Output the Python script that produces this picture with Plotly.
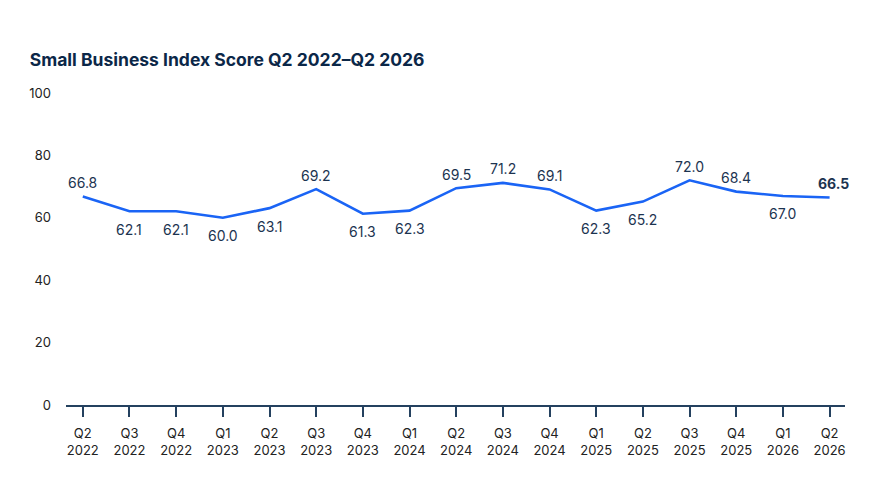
import plotly.graph_objects as go

quarters = ["Q2<br>2022", "Q3<br>2022", "Q4<br>2022", "Q1<br>2023", "Q2<br>2023", "Q3<br>2023",
            "Q4<br>2023", "Q1<br>2024", "Q2<br>2024", "Q3<br>2024", "Q4<br>2024", "Q1<br>2025",
            "Q2<br>2025", "Q3<br>2025", "Q4<br>2025", "Q1<br>2026", "Q2<br>2026"]
scores = [66.8, 62.1, 62.1, 60.0, 63.1, 69.2, 61.3, 62.3, 69.5, 71.2, 69.1, 62.3, 65.2, 72.0, 68.4, 67.0, 66.5]
label_side = ["above", "below", "below", "below", "below", "above", "below", "below", "above",
              "above", "above", "below", "below", "above", "above", "below", "above"]

NAVY = "#0b2748"
LINE = "#1a64f5"
FONT = "Inter, Liberation Sans, Arial, sans-serif"

xs = list(range(len(quarters)))
fig = go.Figure()
fig.add_trace(go.Scatter(x=xs, y=scores, mode="lines",
                         line=dict(color=LINE, width=2.6), hoverinfo="skip", showlegend=False))

annotations = []
for i, (v, side) in enumerate(zip(scores, label_side)):
    last = i == len(scores) - 1
    annotations.append(dict(
        x=i, y=v, xref="x", yref="y", text=(f"<b>{v:.1f}</b>" if last else f"{v:.1f}"),
        showarrow=False, yanchor="middle", xanchor="center",
        yshift=14 if side == "above" else -18, xshift=4 if last else 0,
        font=dict(family=FONT, size=14, color="#1c3350")))

fig.update_layout(
    width=875, height=500,
    margin=dict(l=66, r=30, t=93, b=95),
    paper_bgcolor="white", plot_bgcolor="white",
    title=dict(text="<b>Small Business Index Score Q2 2022–Q2 2026</b>", x=0.034, xanchor="left",
               y=0.88, yanchor="middle", font=dict(family=FONT, size=17.5, color=NAVY)),
    font=dict(family=FONT, size=13, color="#222222"),
    annotations=annotations,
    xaxis=dict(range=[-0.36, 16.33], tickmode="array", tickvals=xs, ticktext=quarters,
               showgrid=False, zeroline=False, showline=True, linecolor="#24415f", linewidth=1.5,
               ticks="outside", ticklen=10, tickcolor="#24415f", tickwidth=1.5, ticklabelstandoff=6,
               tickfont=dict(family=FONT, size=13, color="#222222"), fixedrange=True),
    yaxis=dict(range=[0, 100], tickvals=[0, 20, 40, 60, 80, 100], showgrid=False, zeroline=False,
               showline=False, ticks="", ticklabelstandoff=14,
               tickfont=dict(family=FONT, size=13, color="#222222"), fixedrange=True),
)

fig.write_html("out.html")
